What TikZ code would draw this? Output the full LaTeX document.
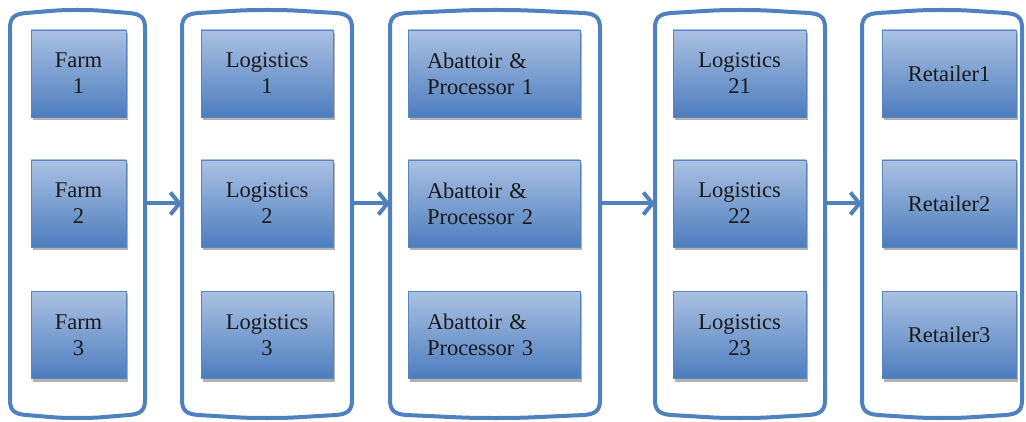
\documentclass[tikz,border=0pt]{standalone}
\usepackage{fontspec}
\setmainfont{Liberation Serif}
\usetikzlibrary{arrows.meta,shadows,calc}
\definecolor{cblue}{HTML}{4F81BD}
\definecolor{ltop}{HTML}{AAC1E2}
\definecolor{lbot}{HTML}{4D7DBE}
\definecolor{bedge}{HTML}{5A84BE}
\tikzset{
  box/.style={draw=bedge, line width=0.7pt, top color=ltop, bottom color=lbot,
    minimum height=87pt, inner sep=0pt, align=center, text=black!90,
    font=\fontsize{22.5}{26}\selectfont,
    drop shadow={shadow xshift=2pt, shadow yshift=-3pt, opacity=0.3, fill=black}},
  cont/.style={draw=cblue, line width=4pt, line join=round},
  conn/.style={draw=cblue, line width=4pt, -{Straight Barb[length=9pt,width=22pt]}},
  contnode/.style={minimum height=408pt, inner sep=0pt, outer sep=0pt}
}
\newcommand\mycont[3]{%
  \pgfmathsetmacro\xa{#2}\pgfmathsetmacro\xb{#3}%
  \pgfmathsetmacro\xm{(#2+#3)/2}%
  \pgfmathsetmacro\w{#3-#2}%
  \pgfmathsetmacro\xal{#2+5}\pgfmathsetmacro\xaq{#2+16}\pgfmathsetmacro\xac{#2+0.35*(#3-#2)}%
  \pgfmathsetmacro\xbl{#3-5}\pgfmathsetmacro\xbq{#3-16}\pgfmathsetmacro\xbc{#3-0.35*(#3-#2)}%
  \pgfmathsetmacro\xmc{0.15*(#3-#2)}%
  \node[contnode, minimum width=\w pt] (#1) at (\xm,214) {};
  \draw[cont] (\xa,28) -- (\xa,400)
    .. controls (\xa,411) and (\xal,414) .. (\xaq,415)
    .. controls (\xac,417.5) and (\xm-\xmc,418) .. (\xm,418)
    .. controls (\xm+\xmc,418) and (\xbc,417.5) .. (\xbq,415)
    .. controls (\xbl,414) and (\xb,411) .. (\xb,400)
    -- (\xb,28)
    .. controls (\xb,17) and (\xbl,14) .. (\xbq,13)
    .. controls (\xbc,10.5) and (\xm+\xmc,10) .. (\xm,10)
    .. controls (\xm-\xmc,10) and (\xac,10.5) .. (\xaq,13)
    .. controls (\xal,14) and (\xa,17) .. cycle;
}
\begin{document}
\begin{tikzpicture}[x=1pt,y=-1pt]
\useasboundingbox (0,0) rectangle (1026,422);
\mycont{c1}{10}{145}
\mycont{c2}{182}{352}
\mycont{c3}{390}{600}
\mycont{c4}{655}{825}
\mycont{c5}{862}{1022}

\node[box, minimum width=95pt] (f1) at (78.5,73.5) {Farm\\1};
\node[box, minimum width=95pt] (f2) at (78.5,203.5) {Farm\\2};
\node[box, minimum width=95pt] (f3) at (78.5,335) {Farm\\3};

\node[box, minimum width=132pt] (l1) at (267,73.5) {Logistics\\1};
\node[box, minimum width=132pt] (l2) at (267,203.5) {Logistics\\2};
\node[box, minimum width=132pt] (l3) at (267,335) {Logistics\\3};

\node[box, minimum width=172pt, align=left, text width=134pt] (a1) at (494,73.5) {Abattoir \&\\Processor 1};
\node[box, minimum width=172pt, align=left, text width=134pt] (a2) at (494,203.5) {Abattoir \&\\Processor 2};
\node[box, minimum width=172pt, align=left, text width=134pt] (a3) at (494,335) {Abattoir \&\\Processor 3};

\node[box, minimum width=133pt] (m1) at (739.5,73.5) {Logistics\\21};
\node[box, minimum width=133pt] (m2) at (739.5,203.5) {Logistics\\22};
\node[box, minimum width=133pt] (m3) at (739.5,335) {Logistics\\23};

\node[box, minimum width=134pt] (r1) at (949,73.5) {Retailer1};
\node[box, minimum width=134pt] (r2) at (949,203.5) {Retailer2};
\node[box, minimum width=134pt] (r3) at (949,335) {Retailer3};

\draw[conn] (c1.east |- f2) -- (c2.west |- f2);
\draw[conn] (c2.east |- f2) -- (c3.west |- f2);
\draw[conn] (c3.east |- f2) -- (c4.west |- f2);
\draw[conn] (c4.east |- f2) -- (c5.west |- f2);
\end{tikzpicture}
\end{document}
